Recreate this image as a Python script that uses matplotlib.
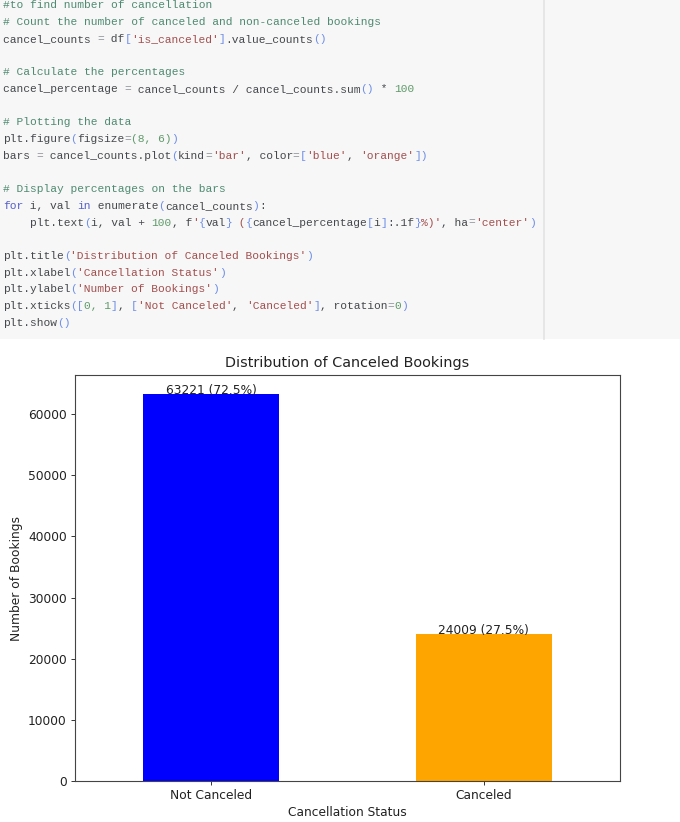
import matplotlib
matplotlib.use('Agg')
import matplotlib.pyplot as plt

# chart data
categories = ['Not Canceled', 'Canceled']
counts = [63221, 24009]
percents = [72.5, 27.5]
bar_colors = ['blue', 'orange']
y_ticks = [0, 10000, 20000, 30000, 40000, 50000, 60000]

# colours of the notebook code
TXT = '#45484c'
COM = '#4f8a72'
STR = '#a2504f'
BRK = '#6f8fe8'
NUM = '#5f9a6a'
KEY = '#5560c8'
OP = '#8a8f95'

# code lines: line number in the cell, then (text, colour) pieces
code_lines = [
    (0, [("#to find number of cancellation", COM)]),
    (1, [("# Count the number of canceled and non-canceled bookings", COM)]),
    (2, [("cancel_counts ", TXT), ("=", OP), (" df", TXT), ("[", BRK), ("'is_canceled'", STR),
         ("]", BRK), (".value_counts", TXT), ("()", BRK)]),
    (4, [("# Calculate the percentages", COM)]),
    (5, [("cancel_percentage ", TXT), ("=", OP), (" cancel_counts / cancel_counts.sum", TXT),
         ("()", BRK), (" * ", TXT), ("100", NUM)]),
    (7, [("# Plotting the data", COM)]),
    (8, [("plt.figure", TXT), ("(", BRK), ("figsize", TXT), ("=", OP), ("(8, 6)", NUM), (")", BRK)]),
    (9, [("bars ", TXT), ("=", OP), (" cancel_counts.plot", TXT), ("(", BRK), ("kind", TXT), ("=", OP),
         ("'bar'", STR), (", color", TXT), ("=", OP), ("[", BRK), ("'blue'", STR), (", ", TXT),
         ("'orange'", STR), ("])", BRK)]),
    (11, [("# Display percentages on the bars", COM)]),
    (12, [("for", KEY), (" i, val ", TXT), ("in", KEY), (" enumerate", TXT), ("(", BRK),
          ("cancel_counts", TXT), (")", BRK), (":", TXT)]),
    (13, [("    plt.text", TXT), ("(", BRK), ("i, val + ", TXT), ("100", NUM), (", f", TXT), ("'", STR),
          ("{", BRK), ("val", TXT), ("}", BRK), (" (", STR), ("{", BRK), ("cancel_percentage", TXT),
          ("[", BRK), ("i", TXT), ("]", BRK), (":.1f", TXT), ("}", BRK), ("%)'", STR), (", ha", TXT),
          ("=", OP), ("'center'", STR), (")", BRK)]),
    (15, [("plt.title", TXT), ("(", BRK), ("'Distribution of Canceled Bookings'", STR), (")", BRK)]),
    (16, [("plt.xlabel", TXT), ("(", BRK), ("'Cancellation Status'", STR), (")", BRK)]),
    (17, [("plt.ylabel", TXT), ("(", BRK), ("'Number of Bookings'", STR), (")", BRK)]),
    (18, [("plt.xticks", TXT), ("([", BRK), ("0, 1", NUM), ("]", BRK), (", ", TXT), ("[", BRK),
          ("'Not Canceled'", STR), (", ", TXT), ("'Canceled'", STR), ("]", BRK), (", rotation", TXT),
          ("=", OP), ("0", NUM), (")", BRK)]),
    (19, [("plt.show", TXT), ("()", BRK)]),
]

W, H = 680, 822
fig = plt.figure(figsize=(W / 100, H / 100), dpi=100, facecolor='white')

# background layer in pixel coordinates for the code cell
bg = fig.add_axes([0, 0, 1, 1])
bg.set_xlim(0, W)
bg.set_ylim(H, 0)
bg.axis('off')
bg.fill_between([0, W], 0, 339, color='#f7f7f7', lw=0)
bg.plot([544, 544], [0, 339], color='#e3e3e3', lw=1.2)

char_w = 6.74
line_h = 16.7
for line_no, pieces in code_lines:
    col = 0
    y = 8.5 + line_no * line_h
    for piece, colour in pieces:
        bg.text(3 + col * char_w, y, piece, color=colour, family='Liberation Mono',
                fontsize=8.1, va='baseline', ha='left')
        col += len(piece)

# the bar chart
ax = fig.add_axes([75 / W, 1 - 781 / H, 545 / W, 406 / H])
ax.bar(categories, counts, width=0.5, color=bar_colors)
ax.set_xlim(-0.5, 1.5)
ax.set_ylim(0, max(counts) * 1.05)
ax.set_yticks(y_ticks)

for i, val in enumerate(counts):
    ax.text(i, val + 100, f'{val} ({percents[i]:.1f}%)', ha='center', fontsize=8.8, color='#222222')

ax.set_title('Distribution of Canceled Bookings', fontsize=10.35, color='#222222', pad=5.8)
ax.set_xlabel('Cancellation Status', fontsize=8.8, color='#222222', labelpad=3.0)
ax.set_ylabel('Number of Bookings', fontsize=8.8, color='#222222', labelpad=3.5)
ax.tick_params(labelsize=8.8, length=3.1, width=0.7, pad=2.8, labelcolor='#222222', color='#333333')
for spine in ax.spines.values():
    spine.set_linewidth(0.8)
    spine.set_color('#444444')

fig.savefig('out.png', dpi=100)
